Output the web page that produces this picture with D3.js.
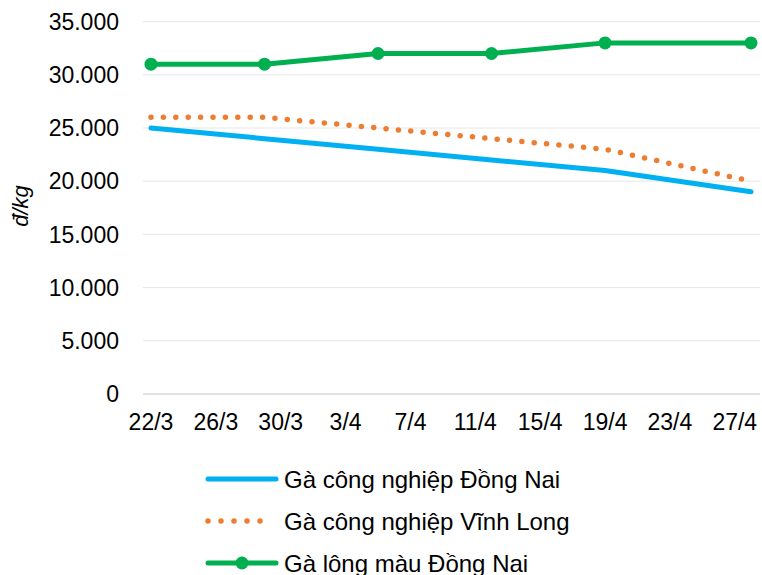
<!DOCTYPE html>
<meta charset="utf-8">
<title>Giá gà</title>
<script src="https://d3js.org/d3.v7.min.js"></script>
<style>
  body { margin: 0; background: #fff; }
  text { font-family: "Liberation Sans", Arial, sans-serif; fill: #000; }
</style>
<body>
<svg id="chart" width="762" height="575"></svg>
</body>
<script>
    // ngày lấy mẫu (d/m) và giá, đ/kg
    const dates = ["22/3", "29/3", "5/4", "12/4", "19/4", "28/4"]
    const gaCongNghiepDongNai = [25000, 24000, 23000, 22000, 21000, 19000]
    const gaCongNghiepVinhLong = [26000, 26000, 25000, 24000, 23000, 20000]
    const gaLongMauDongNai = [31000, 31000, 32000, 32000, 33000, 33000]

    const tickLabels = ["22/3", "26/3", "30/3", "3/4", "7/4", "11/4", "15/4", "19/4", "23/4", "27/4"]
    const yTicks = [0, 5000, 10000, 15000, 20000, 25000, 30000, 35000]

    const seriesNames = ["Gà công nghiệp Đồng Nai", "Gà công nghiệp Vĩnh Long", "Gà lông màu Đồng Nai"]

    let parseDay = s => {
        let [d, m] = s.split("/").map(Number)
        return new Date(2020, m - 1, d)
    }

    let svg = d3.select("#chart")

    let plotLeft = 143, plotRight = 760
    let x = d3.scaleTime()
        .domain([parseDay("22/3"), parseDay("28/4")])
        .range([151, 751])
    let y = d3.scaleLinear()
        .domain([0, 35000])
        .range([394, 21.6])

    let fmt = v => d3.format(",")(v).replace(/,/g, ".")

    // gridlines
    svg.append("g").selectAll("line")
        .data(yTicks.filter(v => v > 0))
        .enter().append("line")
        .attr("x1", plotLeft).attr("x2", plotRight)
        .attr("y1", d => y(d)).attr("y2", d => y(d))
        .attr("stroke", "#e6e6e6")
        .attr("stroke-width", 1)

    // y axis labels
    svg.append("g").selectAll("text")
        .data(yTicks)
        .enter().append("text")
        .attr("x", 119)
        .attr("y", d => y(d))
        .attr("dy", "0.36em")
        .attr("text-anchor", "end")
        .style("font-size", "23px")
        .text(fmt)

    svg.append("text")
        .attr("transform", "translate(28,206) rotate(-90)")
        .attr("text-anchor", "middle")
        .style("font-size", "22px")
        .style("font-style", "italic")
        .text("đ/kg")

    // x axis
    svg.append("line")
        .attr("x1", plotLeft).attr("x2", plotRight)
        .attr("y1", y(0)).attr("y2", y(0))
        .attr("stroke", "#d9d9d9")
        .attr("stroke-width", 1.5)

    svg.append("g").selectAll("text")
        .data(tickLabels)
        .enter().append("text")
        .attr("x", d => x(parseDay(d)))
        .attr("y", 430)
        .attr("text-anchor", "middle")
        .style("font-size", "23px")
        .text(d => d)

    let series = [
        { name: seriesNames[0], values: gaCongNghiepDongNai, color: "#00b0f0", dash: null, marker: false },
        { name: seriesNames[1], values: gaCongNghiepVinhLong, color: "#ed7d31", dash: "0,12.4", marker: false },
        { name: seriesNames[2], values: gaLongMauDongNai, color: "#00b050", dash: null, marker: true }
    ]

    let line = d3.line()
        .x((d, i) => x(parseDay(dates[i])))
        .y(d => y(d))

    series.forEach(s => {
        svg.append("path")
            .datum(s.values)
            .attr("d", line)
            .attr("fill", "none")
            .attr("stroke", s.color)
            .attr("stroke-width", s.dash ? 5.5 : 5)
            .attr("stroke-linecap", "round")
            .attr("stroke-linejoin", "round")
            .attr("stroke-dasharray", s.dash)

        if (s.marker) {
            svg.append("g").selectAll("circle")
                .data(s.values)
                .enter().append("circle")
                .attr("cx", (d, i) => x(parseDay(dates[i])))
                .attr("cy", d => y(d))
                .attr("r", 6.5)
                .attr("fill", s.color)
        }
    })

    // legend
    let legend = svg.append("g").selectAll("g")
        .data(series)
        .enter().append("g")
        .attr("transform", (d, i) => `translate(0,${479 + i * 42})`)

    legend.append("line")
        .attr("x1", 208).attr("x2", d => d.dash ? 273 : 276)
        .attr("y1", 0).attr("y2", 0)
        .attr("stroke", d => d.color)
        .attr("stroke-width", d => d.dash ? 5.5 : 5)
        .attr("stroke-linecap", "round")
        .attr("stroke-dasharray", d => d.dash ? "0,13" : null)

    legend.filter(d => d.marker).append("circle")
        .attr("cx", 242).attr("cy", 0)
        .attr("r", 6.5)
        .attr("fill", d => d.color)

    legend.append("text")
        .attr("x", 284)
        .attr("y", 0)
        .attr("dy", "0.36em")
        .style("font-size", "24px")
        .text(d => d.name)
</script>
</html>
